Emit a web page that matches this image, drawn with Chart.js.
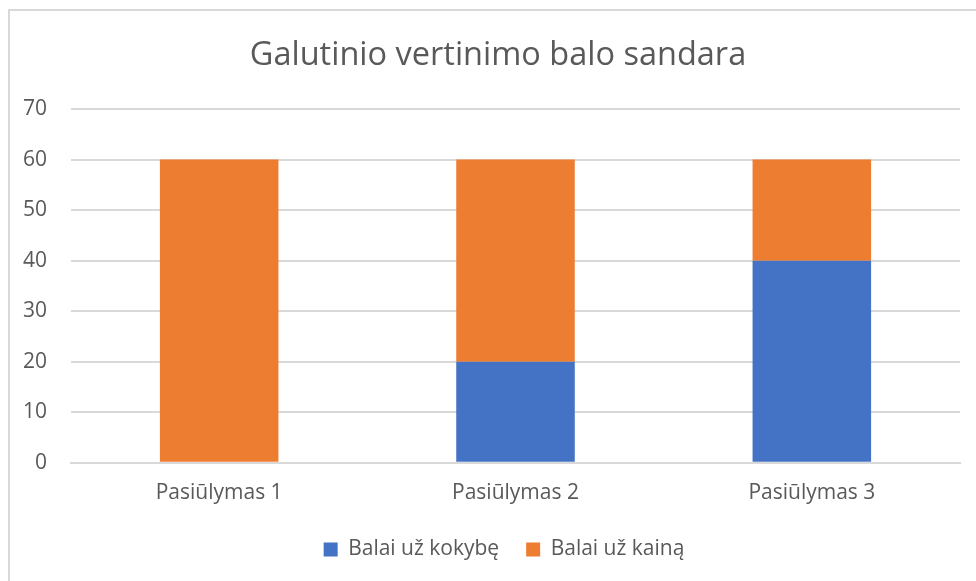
<!DOCTYPE html>
<html>
<head>
<meta charset="utf-8">
<script src="https://cdn.jsdelivr.net/npm/chart.js@4/dist/chart.umd.min.js"></script>
<style>
  html, body { margin: 0; padding: 0; background: #ffffff; }
  #wrap { position: relative; width: 976px; height: 581px; overflow: hidden; }
  #frame { position: absolute; left: 8px; top: 9px; width: 1000px; height: 600px; border: 2px solid #d9d9d9; box-sizing: border-box; }
  canvas { position: absolute; left: 0; top: 0; }
</style>
</head>
<body>
<div id="wrap">
  <div id="frame"></div>
  <canvas id="c" width="976" height="581"></canvas>
</div>
<script>
const titleText = "Galutinio vertinimo balo sandara";
const categories = ["Pasiūlymas 1", "Pasiūlymas 2", "Pasiūlymas 3"];
const seriesNames = ["Balai už kokybę", "Balai už kainą"];
const qualityPoints = [0, 20, 40];
const pricePoints = [60, 40, 20];
const yTicks = [0, 10, 20, 30, 40, 50, 60, 70];

const FONT = "'Open Sans', sans-serif";
const textColor = "#595959";

const blockShift = {
  id: "blockShift",
  afterLayout(chart) {
    const lg = chart.legend;
    if (lg) { lg.left += 23; lg.right += 23; }
    const tb = chart.titleBlock;
    if (tb) { tb.left += 17; tb.right += 17; }
  }
};

new Chart(document.getElementById("c"), {
  type: "bar",
  data: {
    labels: categories,
    datasets: [
      { label: seriesNames[0], data: qualityPoints, backgroundColor: "#4472C4", categoryPercentage: 1, barPercentage: 0.4 },
      { label: seriesNames[1], data: pricePoints, backgroundColor: "#ED7D31", categoryPercentage: 1, barPercentage: 0.4 }
    ]
  },
  plugins: [blockShift],
  options: {
    responsive: false,
    animation: false,
    devicePixelRatio: 1,
    layout: { padding: { left: 2, right: 16, top: 32, bottom: 11 } },
    plugins: {
      title: {
        display: true,
        text: titleText,
        color: textColor,
        font: { family: FONT, size: 32.5, weight: "normal" },
        padding: { top: 4, bottom: 34 }
      },
      legend: {
        position: "bottom",
        labels: {
          color: textColor,
          font: { family: FONT, size: 21 },
          boxWidth: 14,
          boxHeight: 14,
          padding: 27
        }
      },
      tooltip: { enabled: false }
    },
    scales: {
      x: {
        stacked: true,
        grid: { display: false },
        border: { display: true, color: "#d9d9d9", width: 2 },
        ticks: { color: textColor, font: { family: FONT, size: 21 }, padding: 10 },
        afterFit: (axis) => { axis.height -= 4; }
      },
      y: {
        stacked: true,
        min: 0,
        max: 70,
        afterBuildTicks: (axis) => { axis.ticks = yTicks.map(v => ({ value: v })); },
        grid: { color: "#d9d9d9", lineWidth: 2, drawTicks: false },
        border: { display: false },
        ticks: { color: textColor, font: { family: FONT, size: 21 }, padding: 24 },
        afterFit: (axis) => { axis.width -= 3; }
      }
    }
  }
});
</script>
</body>
</html>
